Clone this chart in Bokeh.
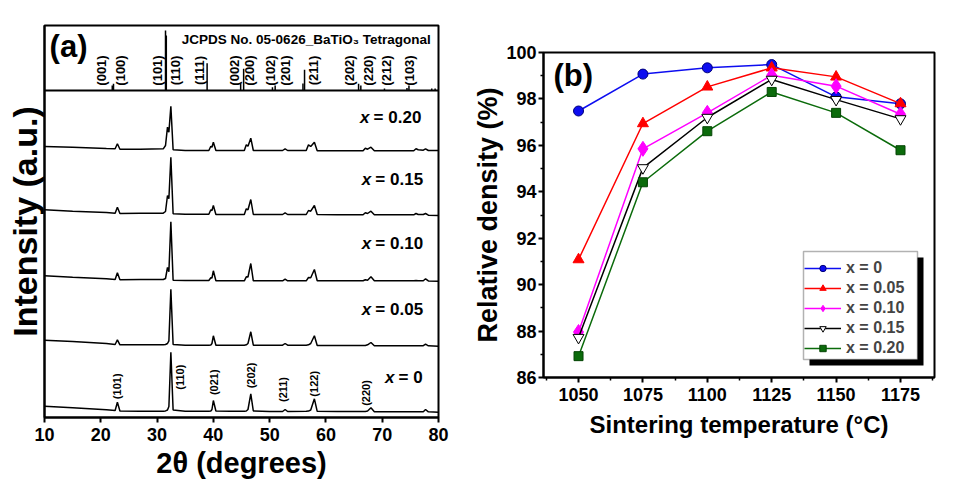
import math
from bokeh.plotting import figure
from bokeh.models import (Range1d, FixedTicker, Span, Legend, LegendItem,
                          BoxAnnotation, ColumnDataSource)
from bokeh.layouts import row
from bokeh.embed import file_html
from bokeh.resources import INLINE
from bokeh.core.properties import value

FONT = "Liberation Sans"

# ---------------- Panel (a): XRD data ----------------
two_theta = [10.0, 15.0, 21.0, 22.55, 22.95, 23.4, 27.0, 31.1, 31.5, 31.85, 32.1, 32.45,
             32.85, 35.0, 39.2, 39.55, 39.75, 40.0, 40.45, 43.0, 45.5, 45.85, 46.15, 46.65,
             47.1, 50.0, 52.3, 52.75, 53.2, 56.5, 56.9, 57.3, 57.95, 58.45, 62.0, 66.6,
             67.0, 67.4, 68.0, 68.6, 72.0, 75.6, 76.0, 76.4, 77.3, 77.7, 78.2, 80.0]

int_x000 = [11.3, 9.7, 7.7, 7.0, 15.3, 6.5, 6.3, 6.3, 6.6, 7.5, 11.0, 65.3,
            7.5, 6.3, 6.3, 6.5, 8.0, 17.0, 6.5, 6.3, 6.3, 6.5, 8.0, 23.7,
            6.5, 6.0, 6.0, 8.0, 6.0, 6.2, 6.4, 7.5, 18.7, 6.2, 6.0, 6.0,
            6.0, 6.5, 9.7, 5.8, 5.7, 5.7, 5.7, 5.7, 5.8, 8.0, 5.7, 5.3]
int_x005 = [77.3, 76.0, 74.0, 73.0, 77.7, 72.7, 72.7, 72.7, 73.0, 74.0, 76.7, 128.3,
            73.0, 72.3, 72.3, 72.5, 74.0, 81.7, 72.3, 72.3, 72.3, 72.7, 74.0, 85.7,
            72.3, 72.3, 72.3, 74.0, 72.3, 72.3, 72.7, 74.0, 81.7, 72.0, 72.0, 72.0,
            72.0, 72.7, 75.0, 71.7, 71.7, 71.7, 71.7, 71.7, 71.8, 73.3, 71.7, 71.3]
int_x010 = [141.7, 140.3, 138.7, 138.0, 144.7, 137.7, 138.0, 138.0, 139.0, 150.0, 145.7, 195.7,
            137.3, 137.0, 137.0, 139.7, 139.5, 146.7, 136.7, 136.7, 136.7, 140.7, 140.5, 154.0,
            136.7, 136.7, 136.7, 138.3, 136.7, 136.7, 140.0, 139.7, 148.0, 136.7, 136.7, 136.7,
            137.7, 137.3, 140.7, 136.7, 136.7, 136.7, 137.0, 136.7, 136.8, 138.7, 136.6, 136.3]
int_x015 = [207.7, 206.3, 205.0, 204.3, 210.3, 204.0, 204.3, 204.3, 206.0, 222.0, 218.7, 260.3,
            203.7, 203.3, 203.3, 207.7, 207.0, 212.0, 203.0, 203.0, 203.0, 208.7, 207.7, 218.0,
            203.0, 203.0, 203.0, 204.7, 203.0, 203.0, 207.0, 206.3, 212.0, 203.0, 202.7, 202.7,
            204.7, 204.0, 206.3, 202.7, 202.7, 202.7, 204.0, 203.0, 203.0, 204.0, 202.3, 202.0]
int_x020 = [271.0, 270.3, 269.0, 268.7, 273.7, 268.3, 268.3, 268.7, 272.0, 290.3, 285.3, 311.3,
            267.7, 267.0, 267.0, 271.3, 270.3, 275.3, 267.0, 267.0, 267.0, 272.7, 271.3, 279.3,
            267.0, 267.0, 267.0, 268.7, 267.0, 267.0, 272.7, 271.0, 275.3, 266.7, 266.7, 266.7,
            269.3, 268.3, 270.3, 266.7, 266.7, 266.7, 268.7, 267.7, 267.3, 268.7, 267.0, 267.0]
xrd_patterns = [int_x000, int_x005, int_x010, int_x015, int_x020]
xrd_names = ["0", "0.05", "0.10", "0.15", "0.20"]

# JCPDS 05-0626 reference sticks (2theta, relative height)
stick_pos = [22.04, 22.26, 31.50, 31.64, 38.89, 44.85, 45.38, 50.50, 50.98, 55.92, 56.20,
             65.80, 66.20, 70.40, 74.40, 74.75, 78.80, 79.40]
stick_h = [5.0, 6.7, 60.0, 55.0, 27.3, 6.7, 21.7, 3.3, 5.0, 7.0, 20.7,
           6.7, 5.0, 2.0, 2.5, 5.0, 2.0, 2.0]
jcpds_hkl = ["(001)", "(100)", "(101)", "(110)", "(111)", "(002)", "(200)", "(102)",
             "(201)", "(211)", "(202)", "(220)", "(212)", "(103)"]
sample_hkl = ["(101)", "(110)", "(021)", "(202)", "(211)", "(122)", "(220)"]

# ---------------- Panel (b): relative density ----------------
temps = [1050, 1075, 1100, 1125, 1150, 1175]
rd_x000 = [97.48, 99.07, 99.34, 99.48, 98.09, 97.79]
rd_x005 = [91.08, 96.94, 98.52, 99.34, 98.95, 97.80]
rd_x010 = [87.96, 95.85, 97.40, 99.02, 98.55, 97.34]
rd_x015 = [87.72, 95.03, 97.20, 98.84, 97.97, 97.14]
rd_x020 = [86.92, 94.41, 96.61, 98.30, 97.40, 95.79]
rd_series = [rd_x000, rd_x005, rd_x010, rd_x015, rd_x020]
legend_labels = ["x = 0", "x = 0.05", "x = 0.10", "x = 0.15", "x = 0.20"]

# ---------------- layout / style (not data) ----------------
SEP_Y = 327
jcpds_label_x = [20.2, 23.45, 30.07, 33.34, 37.53, 43.7, 46.41, 50.09, 52.88, 57.78,
                 64.17, 67.55, 70.82, 74.83]
sample_label_x = [22.86, 34.1, 40.14, 46.66, 52.45, 57.9, 67.14]
sample_label_y = [31.2, 40.3, 35.3, 42.0, 28.0, 33.7, 24.5]
comp_label_y = [40.3, 108.3, 174.0, 238.0, 300.3]
comp_label_x = [70.51, 66.38, 66.38, 66.38, 66.07]

def style_axis(ax, tick_size="18px"):
    ax.axis_line_width = 2
    ax.major_tick_line_width = 2
    ax.minor_tick_line_width = 1.5
    ax.major_tick_in = 0
    ax.minor_tick_in = 0
    ax.major_label_text_font = FONT
    ax.major_label_text_font_style = "bold"
    ax.major_label_text_font_size = tick_size
    ax.major_label_text_color = "black"
    ax.axis_label_text_font = FONT
    ax.axis_label_text_font_style = "bold"
    ax.axis_label_text_color = "black"

# ---------- figure (a) ----------
pa = figure(frame_width=394, frame_height=392, x_range=Range1d(10, 80), y_range=Range1d(0, 392),
            output_backend="svg", toolbar_location=None, frame_align=False,
            min_border_left=44, min_border_right=32, min_border_top=25, min_border_bottom=60)
pa.xgrid.visible = False
pa.ygrid.visible = False
pa.outline_line_color = "black"
pa.outline_line_width = 2
pa.background_fill_color = "white"

style_axis(pa.xaxis[0])
pa.xaxis.ticker = FixedTicker(ticks=[10, 20, 30, 40, 50, 60, 70, 80], minor_ticks=[])
pa.xaxis.major_tick_out = 5
pa.xaxis.major_label_standoff = 5
pa.xaxis.axis_label = "2θ (degrees)"
pa.xaxis.axis_label_text_font_size = "29px"
pa.xaxis.axis_label_standoff = 3

style_axis(pa.yaxis[0])
pa.yaxis.ticker = FixedTicker(ticks=[], minor_ticks=[])
pa.yaxis.major_tick_out = 0
pa.yaxis.axis_label = "Intensity (a.u.)"
pa.yaxis.axis_label_text_font_size = "34px"
pa.yaxis.axis_label_standoff = 1

for pat in xrd_patterns:
    pa.line(two_theta, pat, line_color="black", line_width=1.5)

pa.add_layout(Span(location=SEP_Y, dimension="width", line_color="black", line_width=2))
stick_src = ColumnDataSource(dict(x=stick_pos, y0=[SEP_Y] * len(stick_pos),
                                  y1=[SEP_Y + h for h in stick_h]))
pa.segment(x0="x", y0="y0", x1="x", y1="y1", source=stick_src, line_color="black", line_width=1.5)

pa.text(x=jcpds_label_x, y=[347] * len(jcpds_hkl), text=jcpds_hkl, angle=math.pi / 2,
        text_font=value(FONT), text_font_style="bold", text_font_size="13px",
        text_align="center", text_baseline="middle", text_color="black")
pa.text(x=sample_label_x, y=sample_label_y, text=sample_hkl, angle=math.pi / 2,
        text_font=value(FONT), text_font_style="bold", text_font_size="11px",
        text_align="center", text_baseline="middle", text_color="black")
pa.text(x=[34.4], y=[378.5], text=["JCPDS No. 05-0626_BaTiO₃ Tetragonal"],
        text_font=value(FONT), text_font_style="bold", text_font_size="13.5px",
        text_align="left", text_baseline="middle", text_color="black")
pa.text(x=[10.9], y=[371], text=["(a)"], text_font=value(FONT), text_font_style="bold",
        text_font_size="31px", text_align="left", text_baseline="middle", text_color="black")

# composition labels: italic x, then "= value"
pa.text(x=comp_label_x, y=comp_label_y, text=["x"] * len(xrd_names),
        text_font=value(FONT), text_font_style="bold italic", text_font_size="17px",
        text_align="left", text_baseline="middle", text_color="black")
pa.text(x=[v + 2.4 for v in comp_label_x], y=comp_label_y, text=["= " + n for n in xrd_names],
        text_font=value(FONT), text_font_style="bold", text_font_size="17px",
        text_align="left", text_baseline="middle", text_color="black")

# ---------- figure (b) ----------
pb = figure(frame_width=391, frame_height=325, x_range=Range1d(1036.4, 1188.2), y_range=Range1d(86, 100),
            output_backend="svg", toolbar_location=None, frame_align=False,
            min_border_left=68, min_border_right=17, min_border_top=52, min_border_bottom=100)
pb.xgrid.visible = False
pb.ygrid.visible = False
pb.outline_line_color = "black"
pb.outline_line_width = 2

style_axis(pb.xaxis[0])
pb.xaxis.ticker = FixedTicker(ticks=[1050, 1075, 1100, 1125, 1150, 1175],
                              minor_ticks=[1037.5, 1062.5, 1087.5, 1112.5, 1137.5, 1162.5, 1187.5])
pb.xaxis.major_tick_out = 5
pb.xaxis.minor_tick_out = 3
pb.xaxis.major_label_standoff = 5
pb.xaxis.axis_label = "Sintering temperature (°C)"
pb.xaxis.axis_label_text_font_size = "24px"
pb.xaxis.axis_label_standoff = 7

style_axis(pb.yaxis[0])
pb.yaxis.ticker = FixedTicker(ticks=[86, 88, 90, 92, 94, 96, 98, 100],
                              minor_ticks=[87, 89, 91, 93, 95, 97, 99])
pb.yaxis.major_tick_out = 5
pb.yaxis.minor_tick_out = 3
pb.yaxis.major_label_standoff = 2
pb.yaxis.axis_label = "Relative density (%)"
pb.yaxis.axis_label_text_font_size = "27px"
pb.yaxis.axis_label_standoff = 0

colors = ["#0d0df0", "#ff0000", "#ff00ff", "#000000", "#0b6b0b"]
markers = ["circle", "triangle", "diamond", "inverted_triangle", "square"]
sizes = [10, 11, 15, 11, 9]
fills = ["#0d0df0", "#ff0000", "#ff00ff", "white", "#0b6b0b"]
outlines = ["#00007a", "#ff0000", "#ff00ff", "black", "#054505"]

items = []
for ser, col, mk, sz, fc, oc, lab in zip(rd_series, colors, markers, sizes, fills, outlines, legend_labels):
    lr = pb.line(temps, ser, line_color=col, line_width=1.5)
    sr = pb.scatter(temps, ser, marker=mk, size=sz, fill_color=fc, line_color=oc, line_width=1)
    items.append(LegendItem(label=lab, renderers=[lr, sr]))

pb.text(x=[1040.3], y=[99.02], text=["(b)"], text_font=value(FONT), text_font_style="bold",
        text_font_size="31px", text_align="left", text_baseline="middle", text_color="black")

# legend frame with drop shadow (screen units, relative to the plot frame)
shadow = BoxAnnotation(left=266, right=380, bottom=12, top=120,
                       left_units="screen", right_units="screen",
                       top_units="screen", bottom_units="screen",
                       fill_color="black", fill_alpha=1, line_color=None)
pb.add_layout(shadow)
legend_box = BoxAnnotation(left=260, right=374, bottom=18, top=126,
                           left_units="screen", right_units="screen",
                           top_units="screen", bottom_units="screen",
                           fill_color="white", fill_alpha=1, line_color="black", line_width=1.5)
pb.add_layout(legend_box)

legend = Legend(items=items, location=(261, 20), margin=0, padding=4, spacing=2,
                glyph_width=37, glyph_height=16, label_height=16, label_width=40,
                label_standoff=5, label_text_font=FONT, label_text_font_style="bold",
                label_text_font_size="16px", border_line_color=None,
                background_fill_alpha=0)
pb.add_layout(legend)

layout = row(pa, pb)
open("out.html", "w").write(file_html(layout, INLINE))
